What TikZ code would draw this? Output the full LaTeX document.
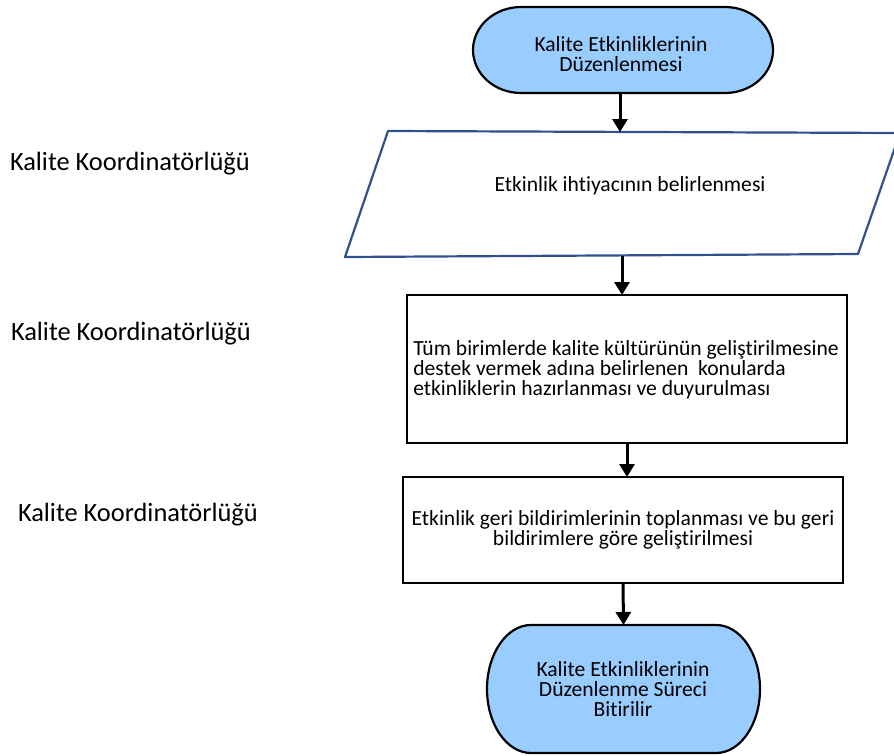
\documentclass[tikz,border=0pt]{standalone}
\usepackage{fontspec}
\setmainfont{Carlito}[Ligatures={NoCommon}]
\usetikzlibrary{arrows.meta}
\definecolor{termfill}{HTML}{99CCFF}
\definecolor{parablue}{HTML}{2F528F}
\begin{document}
\begin{tikzpicture}[x=1pt,y=-1pt,
  every node/.style={inner sep=0pt, outer sep=0pt},
  txt/.style={font=\fontsize{21.6}{19.8}\selectfont, align=center},
  lane/.style={font=\fontsize{26.4}{30}\selectfont, anchor=west},
  stepbox/.style={draw=black, line width=2.2pt},
  arr/.style={line width=3pt, -{Triangle[length=13pt,width=15pt]}},
  term/.style={draw=black, line width=2.2pt, fill=termfill}
]
\useasboundingbox (0,0) rectangle (894,755);

% side labels
\node[lane] (l1) at (10,164) {Kalite Koordinatörlüğü};
\node[lane] (l2) at (11,334) {Kalite Koordinatörlüğü};
\node[lane] (l3) at (18,515) {Kalite Koordinatörlüğü};

% start terminator
\node[minimum width=300pt, minimum height=86pt] (t1) at (623,50) {};
\draw[term] ([xshift=48pt]t1.north west) -- ([xshift=-48pt]t1.north east)
  arc[start angle=90, end angle=-90, x radius=48pt, y radius=43pt]
  -- ([xshift=48pt]t1.south west)
  arc[start angle=270, end angle=90, x radius=48pt, y radius=43pt] -- cycle;
\node[txt] (t1t) at (621,54) {Kalite Etkinliklerinin\\Düzenlenmesi};

% parallelogram
\coordinate (pTL) at (388,131);
\coordinate (pTR) at (900,133);
\coordinate (pBR) at (858,254);
\coordinate (pBL) at (345,257);
\draw[parablue, line width=2.2pt, line join=round] (pTL) -- (pTR) -- (pBR) -- (pBL) -- cycle;
\node[txt] (p1) at (630,186) {Etkinlik ihtiyacının belirlenmesi};
\coordinate (p1n) at (620,132);
\coordinate (p1s) at (622,256);

% process boxes
\node[stepbox, minimum width=440pt, minimum height=148pt] (b1) at (627,369) {};
\node[txt, align=left] (b1t) at (626,370) {Tüm birimlerde kalite kültürünün geliştirilmesine\\destek vermek adına belirlenen\ \ konularda\\etkinliklerin hazırlanması ve duyurulması};

\node[stepbox, minimum width=440pt, minimum height=106pt] (b2) at (623,530) {};
\node[txt] (b2t) at (623,530) {Etkinlik geri bildirimlerinin toplanması ve bu geri\\bildirimlere göre geliştirilmesi};

% end terminator
\node[minimum width=273pt, minimum height=128pt] (t2) at (623.5,689) {};
\draw[term] ([xshift=44pt]t2.north west) -- ([xshift=-44pt]t2.north east)
  arc[start angle=90, end angle=-90, x radius=44pt, y radius=64pt]
  -- ([xshift=44pt]t2.south west)
  arc[start angle=270, end angle=90, x radius=44pt, y radius=64pt] -- cycle;
\node[txt] (t2t) at (623,689) {Kalite Etkinliklerinin\\Düzenlenme Süreci\\Bitirilir};

% connectors
\draw[arr] ([xshift=-3pt]t1.south) -- (p1n);
\draw[arr] (p1s) -- (p1s |- b1.north);
\draw[arr] (b1.south) -- (b2.north -| b1.south);
\draw[arr] (b2.south) -- (t2.north);
\end{tikzpicture}
\end{document}
